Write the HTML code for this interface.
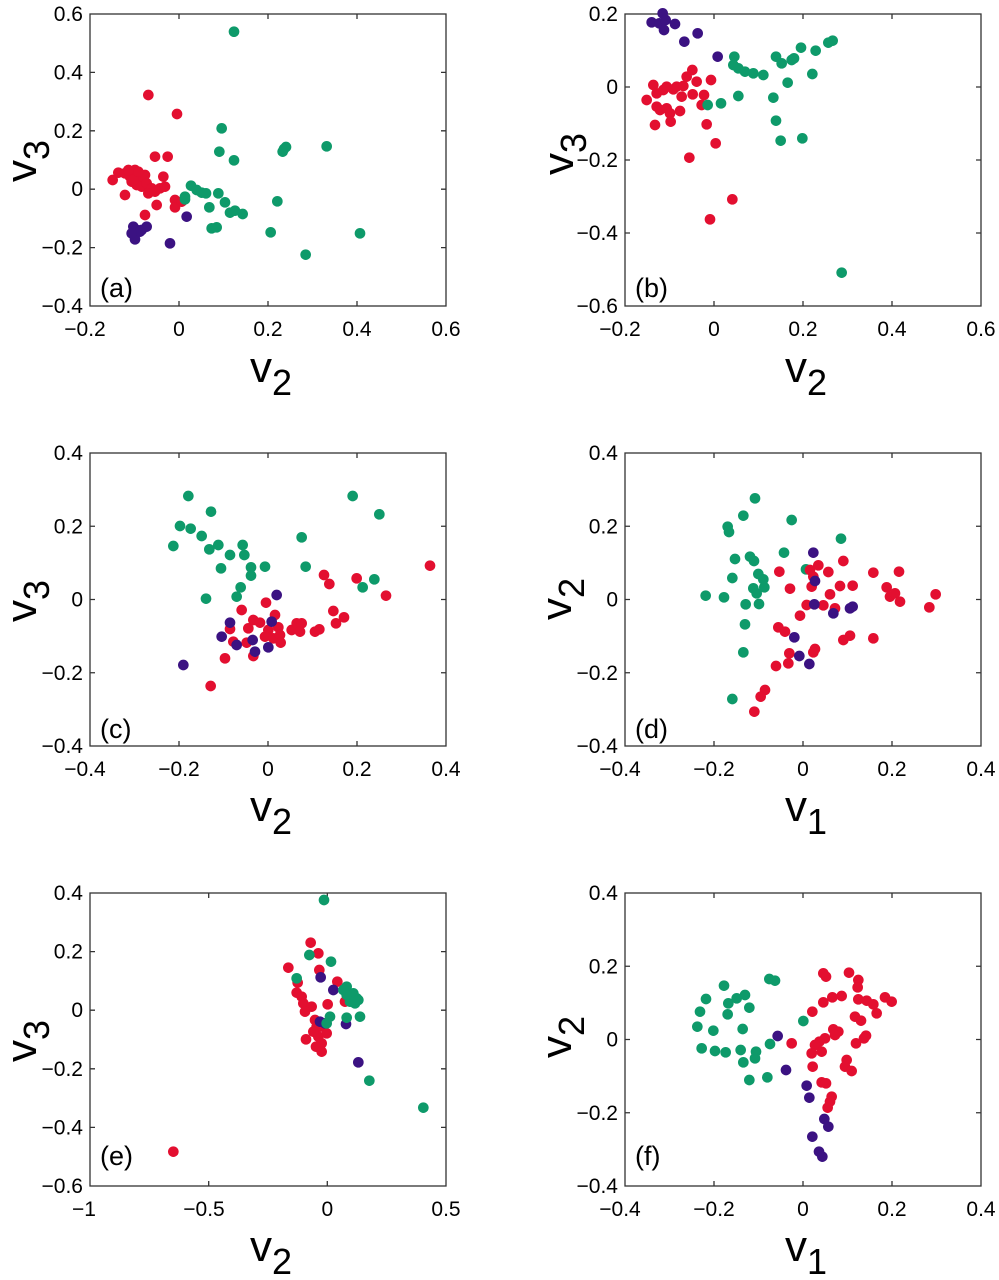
<!DOCTYPE html>
<html><head><meta charset="utf-8"><style>
html,body{margin:0;padding:0;background:#fff}
svg{display:block}
text{font-family:"Liberation Sans",Arial,sans-serif;fill:#000}
.t{font-size:21px}
.g circle{fill:#0e9a6a}.r circle{fill:#e30f30}.p circle{fill:#3b1282}
</style></head><body>
<svg width="999" height="1280" viewBox="0 0 999 1280" xmlns="http://www.w3.org/2000/svg">
<g fill="none" stroke="#333" stroke-width="1.3">
<rect x="90" y="14" width="356" height="292"/>
<rect x="625" y="14" width="356" height="292"/>
<rect x="90" y="453" width="356" height="293"/>
<rect x="625" y="453" width="356" height="293"/>
<rect x="90" y="893" width="356" height="293"/>
<rect x="625" y="893" width="356" height="293"/>
<path d="M179,306v-5M268,306v-5M357,306v-5M179,14v5M268,14v5M357,14v5M90,247.6h5M90,189.2h5M90,130.8h5M90,72.4h5M446,247.6h-5M446,189.2h-5M446,130.8h-5M446,72.4h-5"/>
<path d="M714,306v-5M803,306v-5M892,306v-5M714,14v5M803,14v5M892,14v5M625,233h5M625,160h5M625,87h5M981,233h-5M981,160h-5M981,87h-5"/>
<path d="M179,746v-5M268,746v-5M357,746v-5M179,453v5M268,453v5M357,453v5M90,672.75h5M90,599.5h5M90,526.25h5M446,672.75h-5M446,599.5h-5M446,526.25h-5"/>
<path d="M714,746v-5M803,746v-5M892,746v-5M714,453v5M803,453v5M892,453v5M625,672.75h5M625,599.5h5M625,526.25h5M981,672.75h-5M981,599.5h-5M981,526.25h-5"/>
<path d="M208.7,1186v-5M327.3,1186v-5M208.7,893v5M327.3,893v5M90,1127.4h5M90,1068.8h5M90,1010.2h5M90,951.6h5M446,1127.4h-5M446,1068.8h-5M446,1010.2h-5M446,951.6h-5"/>
<path d="M714,1186v-5M803,1186v-5M892,1186v-5M714,893v5M803,893v5M892,893v5M625,1112.75h5M625,1039.5h5M625,966.25h5M981,1112.75h-5M981,1039.5h-5M981,966.25h-5"/>
</g>

<g class="t" text-anchor="end">
<text x="83" y="313">−0.4</text><text x="83" y="254.6">−0.2</text><text x="83" y="196.2">0</text><text x="83" y="137.8">0.2</text><text x="83" y="79.4">0.4</text><text x="83" y="21">0.6</text>
<text x="618" y="313">−0.6</text><text x="618" y="240">−0.4</text><text x="618" y="167">−0.2</text><text x="618" y="94">0</text><text x="618" y="21">0.2</text>
<text x="83" y="753">−0.4</text><text x="83" y="679.75">−0.2</text><text x="83" y="606.5">0</text><text x="83" y="533.25">0.2</text><text x="83" y="460">0.4</text>
<text x="618" y="753">−0.4</text><text x="618" y="679.75">−0.2</text><text x="618" y="606.5">0</text><text x="618" y="533.25">0.2</text><text x="618" y="460">0.4</text>
<text x="83" y="1193">−0.6</text><text x="83" y="1134.4">−0.4</text><text x="83" y="1075.8">−0.2</text><text x="83" y="1017.2">0</text><text x="83" y="958.6">0.2</text><text x="83" y="900">0.4</text>
<text x="618" y="1193">−0.4</text><text x="618" y="1119.75">−0.2</text><text x="618" y="1046.5">0</text><text x="618" y="973.25">0.2</text><text x="618" y="900">0.4</text>
</g>
<g class="t" text-anchor="middle">
<text x="85" y="336">−0.2</text><text x="179" y="336">0</text><text x="268" y="336">0.2</text><text x="357" y="336">0.4</text><text x="446" y="336">0.6</text>
<text x="620" y="336">−0.2</text><text x="714" y="336">0</text><text x="803" y="336">0.2</text><text x="892" y="336">0.4</text><text x="981" y="336">0.6</text>
<text x="85" y="776">−0.4</text><text x="179" y="776">−0.2</text><text x="268" y="776">0</text><text x="357" y="776">0.2</text><text x="446" y="776">0.4</text>
<text x="620" y="776">−0.4</text><text x="714" y="776">−0.2</text><text x="803" y="776">0</text><text x="892" y="776">0.2</text><text x="981" y="776">0.4</text>
<text x="84" y="1216">−1</text><text x="204" y="1216">−0.5</text><text x="327.3" y="1216">0</text><text x="446" y="1216">0.5</text>
<text x="620" y="1216">−0.4</text><text x="714" y="1216">−0.2</text><text x="803" y="1216">0</text><text x="892" y="1216">0.2</text><text x="981" y="1216">0.4</text>
</g>

<g font-size="44">
<text x="250" y="382">v<tspan font-size="36" dy="13">2</tspan></text>
<text x="785" y="382">v<tspan font-size="36" dy="13">2</tspan></text>
<text x="250" y="821">v<tspan font-size="36" dy="13">2</tspan></text>
<text x="785" y="821">v<tspan font-size="36" dy="13">1</tspan></text>
<text x="250" y="1261">v<tspan font-size="36" dy="13">2</tspan></text>
<text x="785" y="1261">v<tspan font-size="36" dy="13">1</tspan></text>
<text transform="translate(36,182) rotate(-90)">v<tspan font-size="36" dy="13">3</tspan></text>
<text transform="translate(573,175) rotate(-90)">v<tspan font-size="36" dy="13">3</tspan></text>
<text transform="translate(36,622) rotate(-90)">v<tspan font-size="36" dy="13">3</tspan></text>
<text transform="translate(571,620) rotate(-90)">v<tspan font-size="36" dy="13">2</tspan></text>
<text transform="translate(36,1062) rotate(-90)">v<tspan font-size="36" dy="13">3</tspan></text>
<text transform="translate(571,1058) rotate(-90)">v<tspan font-size="36" dy="13">2</tspan></text>
</g>
<g font-size="27">
<text x="100" y="297">(a)</text><text x="635" y="297">(b)</text>
<text x="100" y="738">(c)</text><text x="635" y="738">(d)</text>
<text x="100" y="1165">(e)</text><text x="635" y="1165">(f)</text>
</g>

<g transform="scale(0.33333)">
<g class="r"><circle cx="445" cy="285" r="16"/><circle cx="531" cy="342" r="16"/><circle cx="465" cy="470" r="16"/><circle cx="503" cy="470" r="16"/><circle cx="338" cy="540" r="16"/><circle cx="355" cy="518" r="16"/><circle cx="375" cy="520" r="16"/><circle cx="390" cy="530" r="16"/><circle cx="405" cy="510" r="16"/><circle cx="420" cy="535" r="16"/><circle cx="435" cy="525" r="16"/><circle cx="395" cy="545" r="16"/><circle cx="410" cy="555" r="16"/><circle cx="425" cy="560" r="16"/><circle cx="440" cy="550" r="16"/><circle cx="455" cy="565" r="16"/><circle cx="375" cy="585" r="16"/><circle cx="445" cy="580" r="16"/><circle cx="465" cy="575" r="16"/><circle cx="480" cy="565" r="16"/><circle cx="490" cy="530" r="16"/><circle cx="495" cy="560" r="16"/><circle cx="470" cy="615" r="16"/><circle cx="525" cy="600" r="16"/><circle cx="525" cy="622" r="16"/><circle cx="545" cy="605" r="16"/><circle cx="435" cy="645" r="16"/><circle cx="400" cy="540" r="16"/><circle cx="415" cy="515" r="16"/><circle cx="385" cy="510" r="16"/></g>
<g class="g"><circle cx="702" cy="95" r="16"/><circle cx="665" cy="385" r="16"/><circle cx="658" cy="455" r="16"/><circle cx="702" cy="481" r="16"/><circle cx="848" cy="455" r="16"/><circle cx="852" cy="447" r="16"/><circle cx="858" cy="441" r="16"/><circle cx="980" cy="439" r="16"/><circle cx="573" cy="557" r="16"/><circle cx="590" cy="570" r="16"/><circle cx="605" cy="578" r="16"/><circle cx="618" cy="580" r="16"/><circle cx="555" cy="598" r="16"/><circle cx="555" cy="590" r="16"/><circle cx="655" cy="580" r="16"/><circle cx="675" cy="607" r="16"/><circle cx="628" cy="622" r="16"/><circle cx="690" cy="638" r="16"/><circle cx="705" cy="632" r="16"/><circle cx="728" cy="642" r="16"/><circle cx="832" cy="604" r="16"/><circle cx="635" cy="685" r="16"/><circle cx="650" cy="682" r="16"/><circle cx="812" cy="697" r="16"/><circle cx="1080" cy="700" r="16"/><circle cx="917" cy="764" r="16"/></g>
<g class="p"><circle cx="400" cy="680" r="16"/><circle cx="410" cy="690" r="16"/><circle cx="425" cy="690" r="16"/><circle cx="440" cy="680" r="16"/><circle cx="405" cy="718" r="16"/><circle cx="420" cy="695" r="16"/><circle cx="510" cy="730" r="16"/><circle cx="560" cy="650" r="16"/><circle cx="395" cy="700" r="16"/></g>
</g>

<g transform="translate(500,0) scale(0.33333)">
<g class="r"><circle cx="460" cy="255" r="16"/><circle cx="440" cy="300" r="16"/><circle cx="470" cy="280" r="16"/><circle cx="490" cy="270" r="16"/><circle cx="500" cy="260" r="16"/><circle cx="520" cy="268" r="16"/><circle cx="530" cy="260" r="16"/><circle cx="550" cy="258" r="16"/><circle cx="545" cy="290" r="16"/><circle cx="577" cy="210" r="16"/><circle cx="560" cy="230" r="16"/><circle cx="590" cy="245" r="16"/><circle cx="633" cy="240" r="16"/><circle cx="578" cy="283" r="16"/><circle cx="612" cy="285" r="16"/><circle cx="605" cy="315" r="16"/><circle cx="470" cy="320" r="16"/><circle cx="480" cy="330" r="16"/><circle cx="500" cy="325" r="16"/><circle cx="510" cy="340" r="16"/><circle cx="540" cy="333" r="16"/><circle cx="465" cy="375" r="16"/><circle cx="512" cy="365" r="16"/><circle cx="620" cy="373" r="16"/><circle cx="647" cy="430" r="16"/><circle cx="568" cy="473" r="16"/><circle cx="697" cy="598" r="16"/><circle cx="630" cy="658" r="16"/></g>
<g class="g"><circle cx="703" cy="170" r="16"/><circle cx="700" cy="195" r="16"/><circle cx="715" cy="205" r="16"/><circle cx="735" cy="215" r="16"/><circle cx="760" cy="220" r="16"/><circle cx="790" cy="225" r="16"/><circle cx="828" cy="170" r="16"/><circle cx="845" cy="190" r="16"/><circle cx="875" cy="180" r="16"/><circle cx="882" cy="175" r="16"/><circle cx="903" cy="143" r="16"/><circle cx="947" cy="152" r="16"/><circle cx="985" cy="128" r="16"/><circle cx="998" cy="122" r="16"/><circle cx="937" cy="222" r="16"/><circle cx="863" cy="248" r="16"/><circle cx="715" cy="288" r="16"/><circle cx="820" cy="293" r="16"/><circle cx="663" cy="310" r="16"/><circle cx="623" cy="315" r="16"/><circle cx="828" cy="362" r="16"/><circle cx="842" cy="422" r="16"/><circle cx="907" cy="415" r="16"/><circle cx="1025" cy="818" r="16"/></g>
<g class="p"><circle cx="488" cy="40" r="16"/><circle cx="455" cy="67" r="16"/><circle cx="478" cy="70" r="16"/><circle cx="497" cy="60" r="16"/><circle cx="525" cy="72" r="16"/><circle cx="492" cy="90" r="16"/><circle cx="553" cy="125" r="16"/><circle cx="593" cy="100" r="16"/><circle cx="653" cy="170" r="16"/></g>
</g>

<g transform="translate(0,430) scale(0.33333)">
<g class="g"><circle cx="565" cy="198" r="16"/><circle cx="633" cy="245" r="16"/><circle cx="540" cy="288" r="16"/><circle cx="572" cy="296" r="16"/><circle cx="605" cy="318" r="16"/><circle cx="520" cy="348" r="16"/><circle cx="628" cy="358" r="16"/><circle cx="655" cy="345" r="16"/><circle cx="690" cy="375" r="16"/><circle cx="728" cy="345" r="16"/><circle cx="733" cy="375" r="16"/><circle cx="663" cy="415" r="16"/><circle cx="753" cy="412" r="16"/><circle cx="753" cy="437" r="16"/><circle cx="795" cy="410" r="16"/><circle cx="905" cy="322" r="16"/><circle cx="917" cy="410" r="16"/><circle cx="722" cy="472" r="16"/><circle cx="710" cy="500" r="16"/><circle cx="618" cy="506" r="16"/><circle cx="1058" cy="198" r="16"/><circle cx="1138" cy="253" r="16"/><circle cx="1088" cy="472" r="16"/><circle cx="1123" cy="448" r="16"/></g>
<g class="r"><circle cx="1290" cy="407" r="16"/><circle cx="972" cy="435" r="16"/><circle cx="988" cy="462" r="16"/><circle cx="1070" cy="445" r="16"/><circle cx="1158" cy="497" r="16"/><circle cx="798" cy="518" r="16"/><circle cx="725" cy="540" r="16"/><circle cx="825" cy="555" r="16"/><circle cx="1000" cy="543" r="16"/><circle cx="1032" cy="562" r="16"/><circle cx="1008" cy="580" r="16"/><circle cx="760" cy="570" r="16"/><circle cx="780" cy="578" r="16"/><circle cx="745" cy="595" r="16"/><circle cx="835" cy="592" r="16"/><circle cx="805" cy="600" r="16"/><circle cx="795" cy="620" r="16"/><circle cx="820" cy="625" r="16"/><circle cx="840" cy="615" r="16"/><circle cx="875" cy="600" r="16"/><circle cx="890" cy="580" r="16"/><circle cx="905" cy="580" r="16"/><circle cx="900" cy="605" r="16"/><circle cx="945" cy="605" r="16"/><circle cx="958" cy="598" r="16"/><circle cx="690" cy="597" r="16"/><circle cx="700" cy="635" r="16"/><circle cx="740" cy="638" r="16"/><circle cx="842" cy="638" r="16"/><circle cx="675" cy="685" r="16"/><circle cx="760" cy="678" r="16"/><circle cx="632" cy="768" r="16"/></g>
<g class="p"><circle cx="690" cy="578" r="16"/><circle cx="665" cy="620" r="16"/><circle cx="710" cy="645" r="16"/><circle cx="758" cy="630" r="16"/><circle cx="765" cy="665" r="16"/><circle cx="805" cy="652" r="16"/><circle cx="815" cy="575" r="16"/><circle cx="830" cy="495" r="16"/><circle cx="550" cy="705" r="16"/></g>
</g>

<g transform="translate(500,430) scale(0.33333)">
<g class="g"><circle cx="765" cy="205" r="16"/><circle cx="730" cy="257" r="16"/><circle cx="875" cy="270" r="16"/><circle cx="683" cy="290" r="16"/><circle cx="687" cy="306" r="16"/><circle cx="1023" cy="326" r="16"/><circle cx="852" cy="368" r="16"/><circle cx="705" cy="387" r="16"/><circle cx="750" cy="380" r="16"/><circle cx="762" cy="393" r="16"/><circle cx="918" cy="418" r="16"/><circle cx="697" cy="444" r="16"/><circle cx="775" cy="432" r="16"/><circle cx="790" cy="448" r="16"/><circle cx="617" cy="497" r="16"/><circle cx="672" cy="502" r="16"/><circle cx="760" cy="475" r="16"/><circle cx="770" cy="490" r="16"/><circle cx="793" cy="472" r="16"/><circle cx="737" cy="523" r="16"/><circle cx="777" cy="522" r="16"/><circle cx="735" cy="583" r="16"/><circle cx="730" cy="667" r="16"/><circle cx="697" cy="807" r="16"/></g>
<g class="r"><circle cx="1030" cy="393" r="16"/><circle cx="955" cy="406" r="16"/><circle cx="985" cy="426" r="16"/><circle cx="838" cy="425" r="16"/><circle cx="930" cy="420" r="16"/><circle cx="1120" cy="428" r="16"/><circle cx="1197" cy="425" r="16"/><circle cx="870" cy="476" r="16"/><circle cx="935" cy="470" r="16"/><circle cx="1020" cy="468" r="16"/><circle cx="1058" cy="467" r="16"/><circle cx="1160" cy="472" r="16"/><circle cx="1170" cy="500" r="16"/><circle cx="1185" cy="490" r="16"/><circle cx="1200" cy="515" r="16"/><circle cx="1307" cy="493" r="16"/><circle cx="1288" cy="532" r="16"/><circle cx="990" cy="493" r="16"/><circle cx="970" cy="526" r="16"/><circle cx="920" cy="525" r="16"/><circle cx="1005" cy="535" r="16"/><circle cx="900" cy="557" r="16"/><circle cx="835" cy="592" r="16"/><circle cx="855" cy="605" r="16"/><circle cx="1050" cy="617" r="16"/><circle cx="1030" cy="630" r="16"/><circle cx="1120" cy="625" r="16"/><circle cx="868" cy="670" r="16"/><circle cx="865" cy="700" r="16"/><circle cx="945" cy="657" r="16"/><circle cx="940" cy="667" r="16"/><circle cx="828" cy="708" r="16"/><circle cx="795" cy="780" r="16"/><circle cx="782" cy="800" r="16"/><circle cx="763" cy="845" r="16"/><circle cx="940" cy="440" r="16"/></g>
<g class="p"><circle cx="940" cy="368" r="16"/><circle cx="945" cy="453" r="16"/><circle cx="943" cy="523" r="16"/><circle cx="1000" cy="550" r="16"/><circle cx="1050" cy="535" r="16"/><circle cx="1058" cy="530" r="16"/><circle cx="883" cy="622" r="16"/><circle cx="898" cy="678" r="16"/><circle cx="928" cy="702" r="16"/></g>
</g>

<g transform="translate(0,870) scale(0.33333)">
<g class="r"><circle cx="932" cy="218" r="16"/><circle cx="955" cy="250" r="16"/><circle cx="865" cy="293" r="16"/><circle cx="958" cy="300" r="16"/><circle cx="893" cy="338" r="16"/><circle cx="1012" cy="335" r="16"/><circle cx="890" cy="368" r="16"/><circle cx="905" cy="380" r="16"/><circle cx="910" cy="400" r="16"/><circle cx="935" cy="410" r="16"/><circle cx="915" cy="425" r="16"/><circle cx="983" cy="403" r="16"/><circle cx="1035" cy="395" r="16"/><circle cx="945" cy="450" r="16"/><circle cx="960" cy="470" r="16"/><circle cx="980" cy="490" r="16"/><circle cx="955" cy="500" r="16"/><circle cx="965" cy="520" r="16"/><circle cx="948" cy="530" r="16"/><circle cx="965" cy="545" r="16"/><circle cx="918" cy="508" r="16"/><circle cx="520" cy="845" r="16"/><circle cx="950" cy="470" r="16"/><circle cx="940" cy="485" r="16"/></g>
<g class="p"><circle cx="962" cy="322" r="16"/><circle cx="1000" cy="360" r="16"/><circle cx="960" cy="455" r="16"/><circle cx="975" cy="460" r="16"/><circle cx="1038" cy="462" r="16"/><circle cx="1075" cy="577" r="16"/></g>
<g class="g"><circle cx="972" cy="90" r="16"/><circle cx="928" cy="255" r="16"/><circle cx="993" cy="275" r="16"/><circle cx="890" cy="325" r="16"/><circle cx="1040" cy="350" r="16"/><circle cx="1030" cy="360" r="16"/><circle cx="1060" cy="370" r="16"/><circle cx="1070" cy="385" r="16"/><circle cx="1065" cy="400" r="16"/><circle cx="1075" cy="390" r="16"/><circle cx="1050" cy="395" r="16"/><circle cx="1040" cy="375" r="16"/><circle cx="990" cy="440" r="16"/><circle cx="980" cy="460" r="16"/><circle cx="1040" cy="443" r="16"/><circle cx="1080" cy="440" r="16"/><circle cx="1108" cy="632" r="16"/><circle cx="1270" cy="713" r="16"/></g>
</g>

<g transform="translate(500,870) scale(0.33333)">
<g class="g"><circle cx="808" cy="327" r="16"/><circle cx="825" cy="332" r="16"/><circle cx="672" cy="347" r="16"/><circle cx="735" cy="375" r="16"/><circle cx="618" cy="387" r="16"/><circle cx="685" cy="400" r="16"/><circle cx="710" cy="385" r="16"/><circle cx="748" cy="413" r="16"/><circle cx="600" cy="425" r="16"/><circle cx="683" cy="433" r="16"/><circle cx="910" cy="453" r="16"/><circle cx="592" cy="470" r="16"/><circle cx="640" cy="482" r="16"/><circle cx="728" cy="477" r="16"/><circle cx="605" cy="535" r="16"/><circle cx="645" cy="543" r="16"/><circle cx="677" cy="547" r="16"/><circle cx="722" cy="540" r="16"/><circle cx="768" cy="545" r="16"/><circle cx="765" cy="565" r="16"/><circle cx="730" cy="577" r="16"/><circle cx="810" cy="522" r="16"/><circle cx="748" cy="630" r="16"/><circle cx="802" cy="622" r="16"/></g>
<g class="r"><circle cx="970" cy="310" r="16"/><circle cx="978" cy="320" r="16"/><circle cx="1047" cy="308" r="16"/><circle cx="1075" cy="330" r="16"/><circle cx="1073" cy="352" r="16"/><circle cx="970" cy="397" r="16"/><circle cx="997" cy="382" r="16"/><circle cx="1025" cy="378" r="16"/><circle cx="1075" cy="388" r="16"/><circle cx="1100" cy="392" r="16"/><circle cx="1120" cy="403" r="16"/><circle cx="1130" cy="430" r="16"/><circle cx="1155" cy="382" r="16"/><circle cx="1175" cy="395" r="16"/><circle cx="937" cy="425" r="16"/><circle cx="1065" cy="440" r="16"/><circle cx="1083" cy="452" r="16"/><circle cx="1000" cy="478" r="16"/><circle cx="1015" cy="485" r="16"/><circle cx="1005" cy="495" r="16"/><circle cx="975" cy="505" r="16"/><circle cx="958" cy="515" r="16"/><circle cx="945" cy="525" r="16"/><circle cx="965" cy="545" r="16"/><circle cx="935" cy="550" r="16"/><circle cx="875" cy="520" r="16"/><circle cx="1098" cy="497" r="16"/><circle cx="1092" cy="505" r="16"/><circle cx="1068" cy="520" r="16"/><circle cx="938" cy="590" r="16"/><circle cx="1040" cy="570" r="16"/><circle cx="1035" cy="590" r="16"/><circle cx="1055" cy="603" r="16"/><circle cx="965" cy="637" r="16"/><circle cx="978" cy="640" r="16"/><circle cx="995" cy="680" r="16"/><circle cx="990" cy="695" r="16"/><circle cx="983" cy="713" r="16"/></g>
<g class="p"><circle cx="833" cy="498" r="16"/><circle cx="858" cy="600" r="16"/><circle cx="920" cy="647" r="16"/><circle cx="928" cy="683" r="16"/><circle cx="973" cy="747" r="16"/><circle cx="985" cy="770" r="16"/><circle cx="937" cy="800" r="16"/><circle cx="957" cy="845" r="16"/><circle cx="967" cy="860" r="16"/></g>
</g>
</svg>
</body></html>
